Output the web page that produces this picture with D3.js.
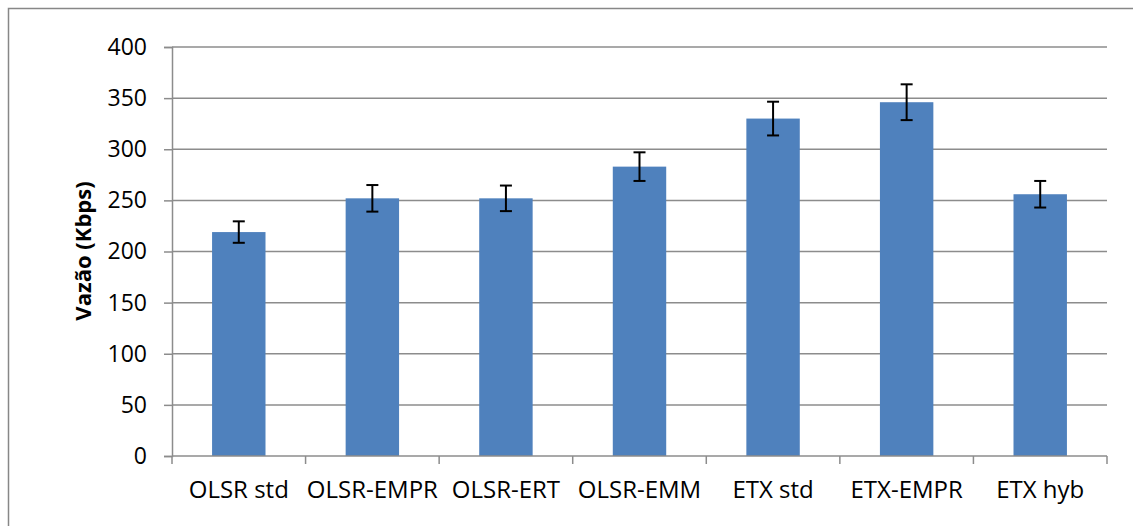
<!DOCTYPE html>
<html><head><meta charset="utf-8">
<script src="https://cdn.jsdelivr.net/npm/d3@7"></script>
<style>body{margin:0;background:#fff;} svg{display:block;}</style>
</head><body>
<svg id="c" width="1133" height="526"></svg>
<script>
const categories = ["OLSR std","OLSR-EMPR","OLSR-ERT","OLSR-EMM","ETX std","ETX-EMPR","ETX hyb"];
const values = [219, 252, 252, 283, 330, 346, 256];
const errors = [10.5, 13, 12.5, 14, 16.5, 17.5, 13];
const yTicks = [0,50,100,150,200,250,300,350,400];
const yTitle = "Vazão (Kbps)";

const svg = d3.select("#c");
const font = "'Open Sans', 'Noto Sans', sans-serif";
const L = 172, R = 1107, T = 47, B = 456;

svg.append("rect").attr("x",8.5).attr("y",8.5).attr("width",1140).attr("height",530)
  .attr("fill","#fff").attr("stroke","#878787").attr("stroke-width",1.5);

const x = d3.scaleBand().domain(categories).range([L,R]).paddingInner(0.6).paddingOuter(0.3);
const y = d3.scaleLinear().domain([0,400]).range([B,T]);

// gridlines
svg.append("g").selectAll("line").data(yTicks.filter(d=>d>0)).join("line")
  .attr("x1",L).attr("x2",R).attr("y1",d=>y(d)).attr("y2",d=>y(d))
  .attr("stroke","#8c8c8c").attr("stroke-width",1.5);

// bars
svg.append("g").selectAll("rect").data(values).join("rect")
  .attr("x",(d,i)=>x(categories[i])).attr("width",x.bandwidth())
  .attr("y",d=>y(d)).attr("height",d=>B-y(d))
  .attr("fill","#4f81bd");

// error bars
const eg = svg.append("g").attr("stroke","#000").attr("stroke-width",2);
values.forEach((v,i)=>{
  const cx = x(categories[i]) + x.bandwidth()/2;
  eg.append("line").attr("x1",cx).attr("x2",cx).attr("y1",y(v+errors[i])).attr("y2",y(v-errors[i]));
  eg.append("line").attr("x1",cx-6).attr("x2",cx+6).attr("y1",y(v+errors[i])).attr("y2",y(v+errors[i]));
  eg.append("line").attr("x1",cx-6).attr("x2",cx+6).attr("y1",y(v-errors[i])).attr("y2",y(v-errors[i]));
});

// y axis
const ya = svg.append("g").attr("transform",`translate(${L},0)`)
  .call(d3.axisLeft(y).tickValues(yTicks).tickSize(8).tickPadding(17));
ya.select(".domain").attr("stroke","#8c8c8c").attr("stroke-width",1.5);
ya.selectAll(".tick line").attr("stroke","#8c8c8c").attr("stroke-width",1.5);
ya.selectAll("text").attr("font-family",font).attr("font-size",23).attr("fill","#000");

// x axis
const xa = svg.append("g").attr("transform",`translate(0,${B})`);
xa.append("line").attr("x1",L).attr("x2",R).attr("y1",0).attr("y2",0).attr("stroke","#8c8c8c").attr("stroke-width",1.5);
const bounds = categories.map(c=>x(c)-x.step()*x.paddingInner()/2).concat([R]);
bounds[0] = L;
xa.selectAll("line.t").data(bounds).join("line").attr("class","t")
  .attr("x1",d=>d).attr("x2",d=>d).attr("y1",0).attr("y2",8)
  .attr("stroke","#8c8c8c").attr("stroke-width",1.5);
xa.selectAll("text").data(categories).join("text")
  .attr("x",d=>x(d)+x.bandwidth()/2).attr("y",42)
  .attr("text-anchor","middle").attr("font-family",font).attr("font-size",24).attr("fill","#000")
  .text(d=>d);

// y title
svg.append("text").attr("transform",`translate(91,251) rotate(-90)`)
  .attr("text-anchor","middle").attr("font-family",font).attr("font-size",22).attr("font-weight","bold")
  .text(yTitle);
</script>
</body></html>
